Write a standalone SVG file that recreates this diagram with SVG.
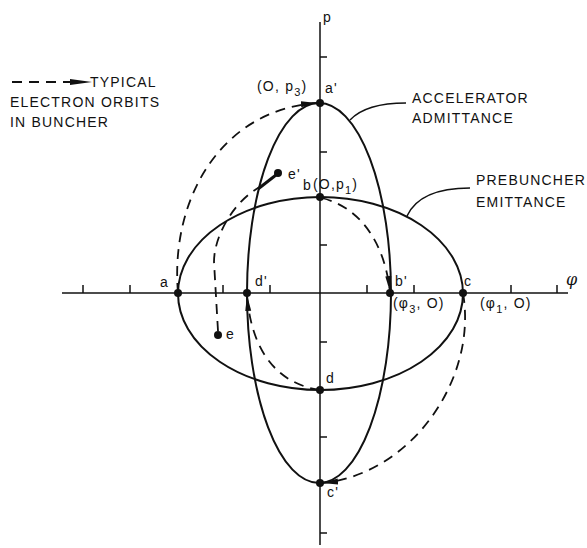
<svg xmlns="http://www.w3.org/2000/svg" width="587" height="548" viewBox="0 0 587 548">
<style>
text{font-family:"Liberation Sans",Arial,sans-serif;font-size:14px;letter-spacing:1.2px;fill:#111}
.ax{stroke:#111;stroke-width:1.5;fill:none}
.tk{stroke:#111;stroke-width:1.5}
.el{stroke:#111;stroke-width:2;fill:none}
.orb{stroke:#111;stroke-width:1.8;fill:none;stroke-dasharray:10 7}
.ld{stroke:#111;stroke-width:1.5;fill:none}
.pt{fill:#111}
.sub{font-size:11px}
</style>
<defs>
<marker id="ah" markerUnits="userSpaceOnUse" markerWidth="18" markerHeight="8" refX="16" refY="3.5" orient="auto">
<path d="M0,0.5 L16,3.5 L0,6.5 z" fill="#111"/>
</marker>
</defs>
<g id="axes">
<line class="ax" x1="62" y1="293" x2="568" y2="293"/>
<line class="ax" x1="320" y1="22" x2="320" y2="545"/>
<g id="ticks">
<line class="tk" x1="83" y1="293" x2="83" y2="285"/>
<line class="tk" x1="130" y1="293" x2="130" y2="285"/>
<line class="tk" x1="223" y1="293" x2="223" y2="285"/>
<line class="tk" x1="270" y1="293" x2="270" y2="285"/>
<line class="tk" x1="367" y1="293" x2="367" y2="285"/>
<line class="tk" x1="414" y1="293" x2="414" y2="285"/>
<line class="tk" x1="511" y1="293" x2="511" y2="285"/>
<line class="tk" x1="557" y1="293" x2="557" y2="285"/>
<line class="tk" x1="320" y1="57" x2="327" y2="57"/>
<line class="tk" x1="320" y1="152" x2="327" y2="152"/>
<line class="tk" x1="320" y1="245" x2="327" y2="245"/>
<line class="tk" x1="320" y1="342" x2="327" y2="342"/>
<line class="tk" x1="320" y1="437" x2="327" y2="437"/>
<line class="tk" x1="320" y1="533" x2="327" y2="533"/>
</g>
<text x="323" y="22">p</text>
<text x="566" y="285" style="font-family:'DejaVu Serif',serif;font-style:italic;font-size:16px">φ</text>
</g>
<g id="emittance">
<ellipse class="el" cx="320.5" cy="293.5" rx="142.5" ry="96.5"/>
<text x="476" y="185">PREBUNCHER</text>
<text x="476" y="207">EMITTANCE</text>
</g>
<g id="admittance">
<ellipse class="el" cx="319" cy="293" rx="72" ry="190"/>
<text x="412" y="103">ACCELERATOR</text>
<text x="412" y="123">ADMITTANCE</text>
</g>
<g id="legend">
<line class="orb" x1="12" y1="82" x2="72" y2="82"/>
<path d="M70,79 L92,82 L70,85 z" fill="#111"/>
<text x="90" y="87">TYPICAL</text>
<text x="10" y="107">ELECTRON ORBITS</text>
<text x="10" y="127">IN BUNCHER</text>
</g>
<g id="point-a"><circle class="pt" cx="178" cy="293" r="4"/><text x="160" y="287">a</text></g>
<g id="point-d1"><circle class="pt" cx="247" cy="293" r="4"/><text x="255" y="286">d'</text></g>
<g id="point-b1"><circle class="pt" cx="390" cy="293" r="4"/><text x="395" y="286">b'</text><text x="393" y="308">(φ<tspan class="sub" dy="5">3</tspan><tspan dy="-5">, O)</tspan></text></g>
<g id="point-c"><circle class="pt" cx="463" cy="293" r="4"/><text x="464" y="286">c</text><text x="480" y="308">(φ<tspan class="sub" dy="5">1</tspan><tspan dy="-5">, O)</tspan></text></g>
<g id="point-a1"><circle class="pt" cx="320" cy="103" r="4"/><text x="325" y="93">a'</text><text x="257" y="91">(O, p<tspan class="sub" dy="5">3</tspan><tspan dy="-5">)</tspan></text></g>
<g id="point-b"><circle class="pt" cx="320" cy="197" r="4"/><text x="303" y="190">b</text><text x="313" y="189">(O,p<tspan class="sub" dy="5">1</tspan><tspan dy="-5">)</tspan></text></g>
<g id="point-d"><circle class="pt" cx="320" cy="390" r="4"/><text x="326" y="383">d</text></g>
<g id="point-c1"><circle class="pt" cx="320" cy="483" r="4"/><text x="327" y="497">c'</text></g>
<g id="point-e"><circle class="pt" cx="218" cy="335" r="4"/><text x="226" y="339">e</text></g>
<g id="point-e1"><circle class="pt" cx="278" cy="173" r="4"/><text x="288" y="179">e'</text></g>
<g id="connectors">
<path class="orb" d="M178,293 C170,200 220,110 317,103" marker-end="url(#ah)"/>
<path class="orb" d="M463,293 C478,380 410,475 322,483" marker-end="url(#ah)"/>
<path class="orb" d="M322,198 C362,208 385,245 390,292" marker-end="url(#ah)"/>
<path class="orb" d="M320,390 C285,385 252,360 247,295" marker-end="url(#ah)"/>
<path class="orb" d="M218,331 L214,262 C214,235 235,200 260,187"/>
<line x1="258" y1="189" x2="276" y2="175" stroke="#111" stroke-width="3"/>
<path class="ld" d="M350,120 Q366,103 406,103"/>
<path class="ld" d="M407,216 Q420,188 470,188"/>
</g>
</svg>
